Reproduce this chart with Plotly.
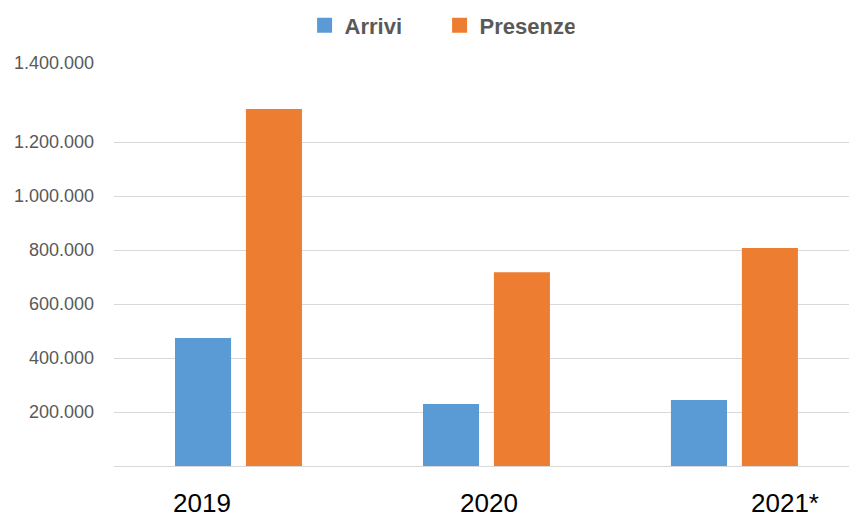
import plotly.graph_objects as go

years = ["2019", "2020", "2021*"]
arrivi = [474000, 230000, 244000]
presenze = [1322000, 718000, 807000]
tick_vals = [0, 200000, 400000, 600000, 800000, 1000000, 1200000, 1492600]
tick_text = ["", "200.000", "400.000", "600.000", "800.000", "1.000.000", "1.200.000", "1.400.000"]
label_pos = [-0.147, 1.012, 2.204]

xs = list(range(len(years)))
blue = "#5B9BD5"
orange = "#ED7D31"

fig = go.Figure()
fig.add_trace(go.Bar(x=xs, y=arrivi, name="Arrivi", marker_color=blue,
                     width=0.226, offset=-0.256, marker_line_width=0,
                     legendgroup="a", showlegend=False))
fig.add_trace(go.Bar(x=xs, y=presenze, name="Presenze", marker_color=orange,
                     width=0.226, offset=0.030, marker_line_width=0,
                     legendgroup="p", showlegend=False))
# legend entries with larger square symbols
fig.add_trace(go.Scatter(x=[None], y=[None], mode="markers", name="Arrivi", legendgroup="a",
                         marker=dict(symbol="square", size=15, color=blue)))
fig.add_trace(go.Scatter(x=[None], y=[None], mode="markers", name="Presenze", legendgroup="p",
                         marker=dict(symbol="square", size=15, color=orange)))

for xp, lab in zip(label_pos, years):
    fig.add_annotation(x=xp, y=-0.092, xref="x", yref="paper", text=lab, showarrow=False,
                       xanchor="center", yanchor="middle",
                       font=dict(family="Liberation Sans", size=26, color="#000000"))

fig.update_layout(
    width=849, height=517,
    margin=dict(l=114, r=0, t=63, b=51),
    plot_bgcolor="white", paper_bgcolor="white",
    barmode="overlay",
    showlegend=True,
    legend=dict(orientation="h", x=0.2593, xanchor="left", y=1.145, yanchor="top",
                font=dict(family="Liberation Sans", size=22, color="#595959", weight="bold"),
                entrywidth=90, entrywidthmode="pixels", bgcolor="rgba(0,0,0,0)",
                itemwidth=30),
    xaxis=dict(range=[-0.502, 2.462], showticklabels=False, showgrid=False, zeroline=False,
               fixedrange=True),
    yaxis=dict(range=[0, 1492600], tickvals=tick_vals, ticktext=tick_text,
               showgrid=True, gridcolor="#D9D9D9", gridwidth=1.3, zeroline=True,
               zerolinecolor="#D9D9D9", zerolinewidth=1.3, ticks="", ticklabelstandoff=19,
               tickfont=dict(family="Liberation Sans", size=18, color="#595959")),
    font=dict(family="Liberation Sans"),
)

fig.write_html("out.html")
